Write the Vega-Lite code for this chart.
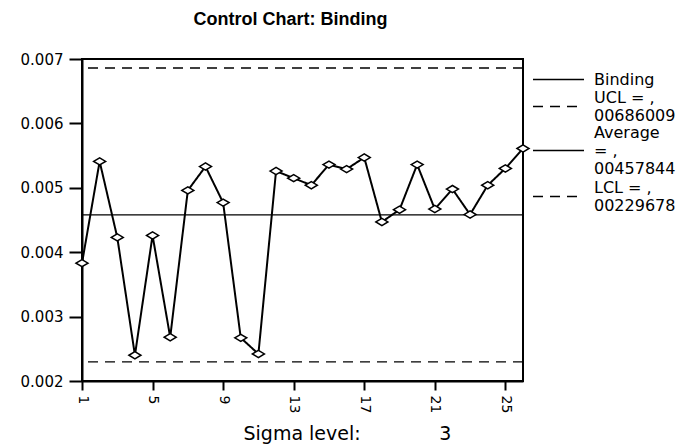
{
  "$schema": "https://vega.github.io/schema/vega-lite/v6.json",
  "autosize": "none",
  "width": 441,
  "height": 322,
  "padding": {"left": 82, "top": 59, "right": 158, "bottom": 63},
  "background": "white",
  "config": {
    "font": "DejaVu Sans",
    "view": {"stroke": "black", "strokeWidth": 2},
    "axis": {"domainColor": "black", "domainWidth": 2, "tickColor": "black", "tickWidth": 2, "labelColor": "black", "labelFont": "DejaVu Sans", "grid": false}
  },
  "title": {"text": "Control Chart: Binding", "fontSize": 18, "fontWeight": "bold", "font": "Liberation Sans", "color": "black", "anchor": "middle", "dx": -12, "offset": 23},
  "datasets": {
    "binding": [
      {"sample": 1, "value": 0.00383},
      {"sample": 2, "value": 0.00541},
      {"sample": 3, "value": 0.00423},
      {"sample": 4, "value": 0.00240},
      {"sample": 5, "value": 0.00426},
      {"sample": 6, "value": 0.00268},
      {"sample": 7, "value": 0.00496},
      {"sample": 8, "value": 0.00533},
      {"sample": 9, "value": 0.00477},
      {"sample": 10, "value": 0.00267},
      {"sample": 11, "value": 0.00242},
      {"sample": 12, "value": 0.00526},
      {"sample": 13, "value": 0.00515},
      {"sample": 14, "value": 0.00504},
      {"sample": 15, "value": 0.00536},
      {"sample": 16, "value": 0.00529},
      {"sample": 17, "value": 0.00547},
      {"sample": 18, "value": 0.00447},
      {"sample": 19, "value": 0.00466},
      {"sample": 20, "value": 0.00536},
      {"sample": 21, "value": 0.00467},
      {"sample": 22, "value": 0.00498},
      {"sample": 23, "value": 0.004585},
      {"sample": 24, "value": 0.00504},
      {"sample": 25, "value": 0.00530},
      {"sample": 26, "value": 0.00561}
    ],
    "limits": [
      {"series": "UCL = ,|00686009", "value": 0.00686009},
      {"series": "Average|= ,|00457844", "value": 0.00457844},
      {"series": "LCL = ,|00229678", "value": 0.00229678}
    ]
  },
  "layer": [
    {
      "data": {"name": "limits"},
      "mark": {"type": "rule", "color": "black"},
      "encoding": {
        "y": {"field": "value", "type": "quantitative", "scale": {"domain": [0.002, 0.007], "nice": false, "zero": false},
              "axis": {"values": [0.002, 0.003, 0.004, 0.005, 0.006, 0.007], "format": ".3f", "title": null, "tickSize": 13, "labelPadding": 6, "labelFontSize": 15}},
        "strokeDash": {"field": "series", "type": "nominal",
          "scale": {"domain": ["Binding", "UCL = ,|00686009", "Average|= ,|00457844", "LCL = ,|00229678"], "range": [[1, 0], [10, 7], [1, 0], [10, 7]]},
          "legend": {"title": null, "orient": "none", "legendX": 467, "legendY": 11, "symbolType": "M-3,0H3", "symbolSize": 289, "symbolStrokeColor": "black", "symbolFillColor": "transparent", "symbolStrokeWidth": 1.5, "labelExpr": "split(datum.label, '|')", "labelFont": "DejaVu Sans", "labelFontSize": 16, "labelLineHeight": 17.4, "labelColor": "black", "labelOffset": 26, "rowPadding": 1, "labelLimit": 200,
            "encode": {"labels": {"update": {"dy": {"signal": "-(length(split(datum.label, '|')) - 1) * 8.7"}}}}}},
        "strokeWidth": {"field": "series", "type": "nominal", "scale": {"domain": ["UCL = ,|00686009", "Average|= ,|00457844", "LCL = ,|00229678"], "range": [1.5, 1.2, 1.5]}, "legend": null}
      }
    },
    {
      "data": {"name": "binding"},
      "mark": {"type": "line", "color": "black", "strokeWidth": 2},
      "encoding": {
        "x": {"field": "sample", "type": "quantitative", "scale": {"domain": [1, 26], "nice": false, "zero": false},
              "axis": {"values": [1, 3, 5, 7, 9, 11, 13, 15, 17, 19, 21, 23, 25], "labelAngle": 90, "labelAlign": "left", "labelBaseline": "middle", "labelFontSize": 14, "tickSize": 9, "labelPadding": 5, "labelOverlap": false,
                       "title": "Sigma level:\u00a0\u00a0\u00a0\u00a0\u00a0\u00a0\u00a0\u00a0\u00a0\u00a0\u00a0\u00a0\u00a03", "titleFont": "DejaVu Sans", "titleFontSize": 19, "titleFontWeight": "normal", "titleColor": "black", "titleAnchor": "start", "titleX": 161, "titleY": 58, "titleBaseline": "alphabetic", "titleAlign": "left"}},
        "y": {"field": "value", "type": "quantitative"},
        "strokeDash": {"datum": "Binding"}
      }
    },
    {
      "data": {"name": "binding"},
      "mark": {"type": "point", "shape": "M-1,0L0,-0.6L1,0L0,0.6Z", "filled": false, "stroke": "black", "fill": "white", "strokeWidth": 1.5, "size": 144, "opacity": 1},
      "encoding": {
        "x": {"field": "sample", "type": "quantitative"},
        "y": {"field": "value", "type": "quantitative"}
      }
    }
  ]
}
